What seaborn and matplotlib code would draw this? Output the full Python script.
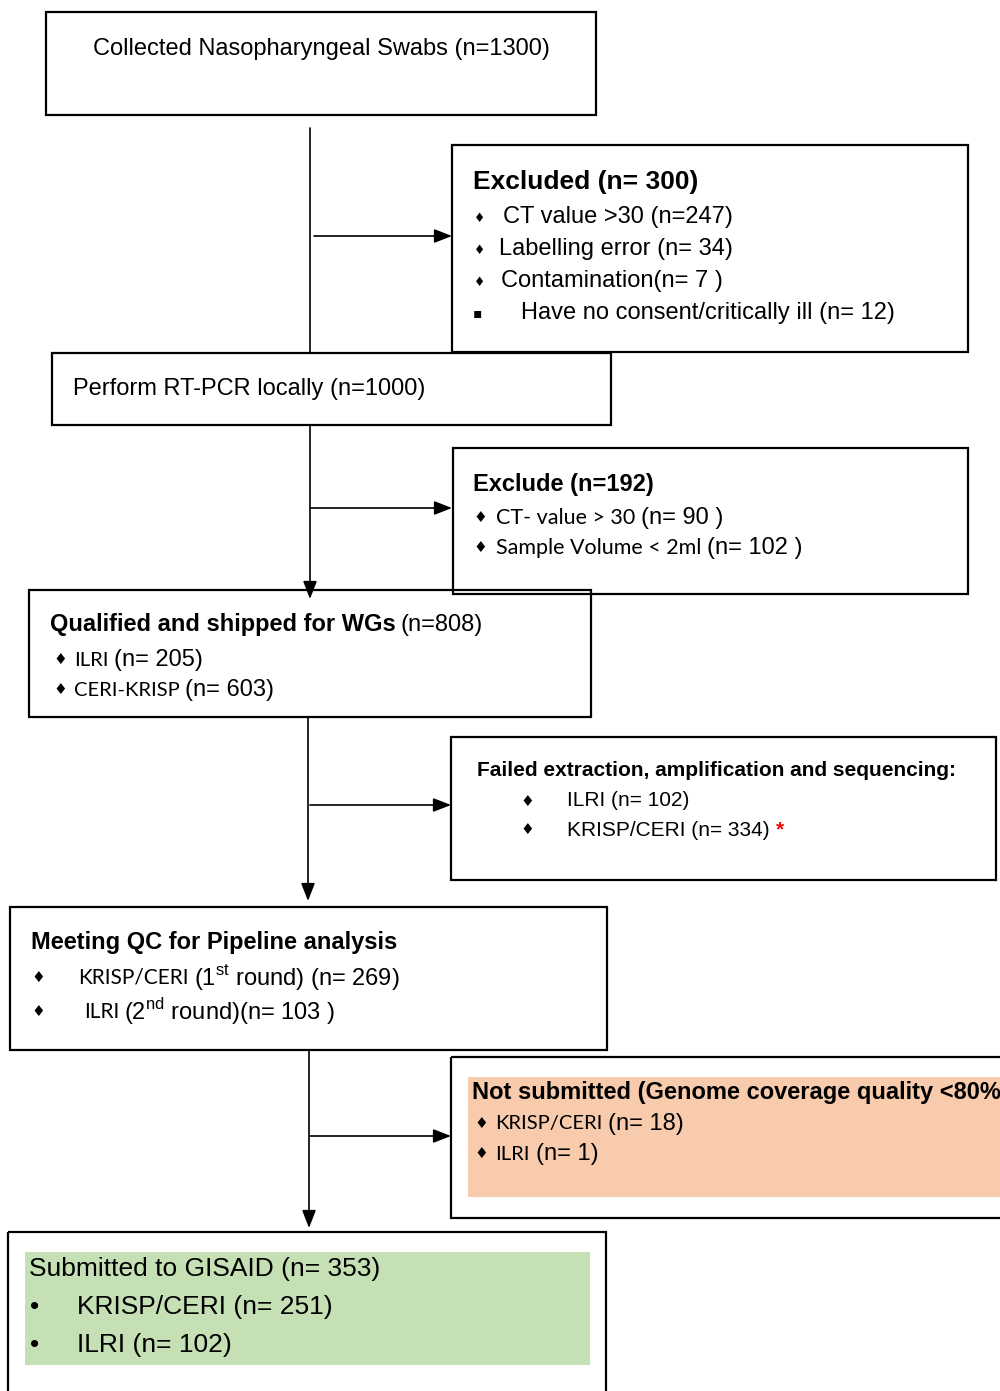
import matplotlib
matplotlib.use("Agg")
import matplotlib.pyplot as plt
import seaborn as sns
from matplotlib.patches import Rectangle

# -----------------------------
# Flowchart data
# -----------------------------
collected_n = 1300

excluded_total = 300
excluded_labels = ["CT value >30", "Labelling error", "Contamination", "Have no consent/critically ill"]
excluded_counts = [247, 34, 7, 12]

rtpcr_n = 1000

exclude2_total = 192
exclude2_labels = ["CT- value > 30", "Sample Volume < 2ml"]
exclude2_counts = [90, 102]

shipped_total = 808
shipped_labs = ["ILRI", "CERI-KRISP"]
shipped_counts = [205, 603]

failed_labs = ["ILRI", "KRISP/CERI"]
failed_counts = [102, 334]

qc_labs = ["KRISP/CERI", "ILRI"]
qc_rounds = ["1", "2"]
qc_suffix = ["st", "nd"]
qc_counts = [269, 103]

notsub_labs = ["KRISP/CERI", "ILRI"]
notsub_counts = [18, 1]

submitted_total = 353
submitted_labs = ["KRISP/CERI", "ILRI"]
submitted_counts = [251, 102]

sns.set_theme(style="white")
plt.rcParams["font.family"] = ["Liberation Sans", "DejaVu Sans"]
plt.rcParams["text.color"] = "black"
plt.rcParams["mathtext.fontset"] = "custom"
plt.rcParams["mathtext.rm"] = "Liberation Sans"

fig = plt.figure(figsize=(10, 13.91), dpi=100)
ax = fig.add_axes([0, 0, 1, 1])
ax.set_xlim(0, 1000)
ax.set_ylim(1391, 0)
ax.axis("off")

fig.canvas.draw()
renderer = fig.canvas.get_renderer()

ARIAL = ["Liberation Sans", "DejaVu Sans"]
CALIBRI = ["Lato", "DejaVu Sans"]
DY = 2  # small downward nudge for all text


def T(x, y, s, **kw):
    kw.setdefault("ha", "left")
    kw.setdefault("va", "center")
    kw.setdefault("color", "black")
    return ax.text(x, y + DY, s, **kw)


def box(x0, y0, x1, y1, fc="none", lw=1.6):
    ax.add_patch(Rectangle((x0, y0), x1 - x0, y1 - y0, fill=(fc != "none"),
                           facecolor=fc, edgecolor="black" if fc == "none" else fc,
                           lw=lw, clip_on=True))


def run(x, y, parts):
    # text pieces side by side: (text, size, weight, family, color, gap)
    for txt, size, weight, fam, color, gap in parts:
        t = T(x, y, txt, fontsize=size, fontweight=weight, family=fam, color=color)
        x += t.get_window_extent(renderer).width + gap


def bullet(x, y, sym="\u2666", size=11):
    T(x, y, sym, fontsize=size, family=["DejaVu Sans"], ha="center")


def vline(x, y0, y1, arrow=False):
    if arrow:
        ax.annotate("", xy=(x, y1), xytext=(x, y0),
                    arrowprops=dict(arrowstyle="-|>,head_length=0.9,head_width=0.35",
                                    lw=1.2, color="black", shrinkA=0, shrinkB=0))
    else:
        ax.plot([x, x], [y0, y1], color="black", lw=1.2)


def harrow(x0, x1, y):
    ax.annotate("", xy=(x1, y), xytext=(x0, y),
                arrowprops=dict(arrowstyle="-|>,head_length=0.9,head_width=0.35",
                                lw=1.2, color="black", shrinkA=0, shrinkB=0))


# -----------------------------
# Boxes
# -----------------------------
box(46, 12, 596, 115)
T(321, 47, f"Collected Nasopharyngeal Swabs (n={collected_n})", fontsize=17, ha="center")

vline(310, 128, 353)
harrow(314, 452, 236)

box(452, 145, 968, 352)
T(473, 180, f"Excluded (n= {excluded_total})", fontsize=19, fontweight="bold")
ex_fmt = ["{} (n={})", "{} (n= {})", "{}(n= {} )", "{} (n= {})"]
ex_x = [503, 499, 501, 521]
ex_y = [215, 247, 279, 311]
for i in range(4):
    if i < 3:
        bullet(480, ex_y[i] + 1, size=9)
    else:
        bullet(477, ex_y[i], "\u25aa", size=10)
    T(ex_x[i], ex_y[i], ex_fmt[i].format(excluded_labels[i], excluded_counts[i]), fontsize=17)

box(52, 353, 611, 425)
T(73, 387, f"Perform RT-PCR locally (n={rtpcr_n})", fontsize=17)

vline(310, 425, 599, arrow=True)
harrow(310, 452, 508)

box(453, 448, 968, 594)
T(473, 482, f"Exclude (n={exclude2_total})", fontsize=17, fontweight="bold")
for i, yy in enumerate([516, 546]):
    bullet(480, yy)
    run(496, yy, [(exclude2_labels[i], 15.5, "normal", CALIBRI, "black", 6),
                  (f"(n= {exclude2_counts[i]} )", 17, "normal", ARIAL, "black", 0)])

box(29, 590, 591, 717)
run(50, 623, [("Qualified and shipped for WGs", 17, "bold", ARIAL, "black", 5),
              (f"(n={shipped_total})", 17, "normal", ARIAL, "black", 0)])
for i, yy in enumerate([658, 688]):
    bullet(60, yy)
    run(74, yy, [(shipped_labs[i], 14.5, "normal", CALIBRI, "black", 5),
                 (f"(n= {shipped_counts[i]})", 17, "normal", ARIAL, "black", 0)])

vline(308, 717, 901, arrow=True)
harrow(310, 451, 805)

box(451, 737, 996, 880)
T(477, 769, "Failed extraction, amplification and sequencing:", fontsize=15, fontweight="bold")
for i, yy in enumerate([799, 828]):
    bullet(527, yy)
    parts = [(f"{failed_labs[i]} (n= {failed_counts[i]})", 15, "normal", ARIAL, "black", 6)]
    if i == 1:
        parts.append(("*", 15, "bold", ARIAL, "red", 0))
    run(567, yy, parts)

box(10, 907, 607, 1050)
T(31, 941, "Meeting QC for Pipeline analysis", fontsize=17, fontweight="bold")
qc_x = [78, 84]
qc_gap = [" ", ""]
qc_end = [")", " )"]
for i, yy in enumerate([975, 1010]):
    bullet(38, yy)
    run(qc_x[i], yy, [(qc_labs[i], 15, "normal", CALIBRI, "black", 5),
                      (f"({qc_rounds[i]}$^{{\\mathrm{{{qc_suffix[i]}}}}}$ round){qc_gap[i]}(n= {qc_counts[i]}{qc_end[i]}",
                       17, "normal", ARIAL, "black", 0)])

vline(309, 1050, 1228, arrow=True)
harrow(310, 451, 1136)

box(451, 1057, 1012, 1218)
box(468, 1077, 1012, 1197, fc="#F8CBAD", lw=0)
# title runs past the right edge in the original figure
T(472, 1091, "Not submitted (Genome coverage quality <80%)", fontsize=17, fontweight="bold")
for i, yy in enumerate([1122, 1152]):
    bullet(481, yy)
    run(495, yy, [(notsub_labs[i], 14.5, "normal", CALIBRI, "black", 6),
                  (f"(n= {notsub_counts[i]})", 17, "normal", ARIAL, "black", 0)])

box(8, 1232, 606, 1400)
box(25, 1252, 590, 1365, fc="#C5E0B4", lw=0)
T(29, 1267, f"Submitted to GISAID (n= {submitted_total})", fontsize=19)
for i, yy in enumerate([1305, 1343]):
    T(35, yy, "\u2022", fontsize=19, ha="center")
    T(77, yy, f"{submitted_labs[i]} (n= {submitted_counts[i]})", fontsize=19)

plt.savefig("out.png", dpi=100)
